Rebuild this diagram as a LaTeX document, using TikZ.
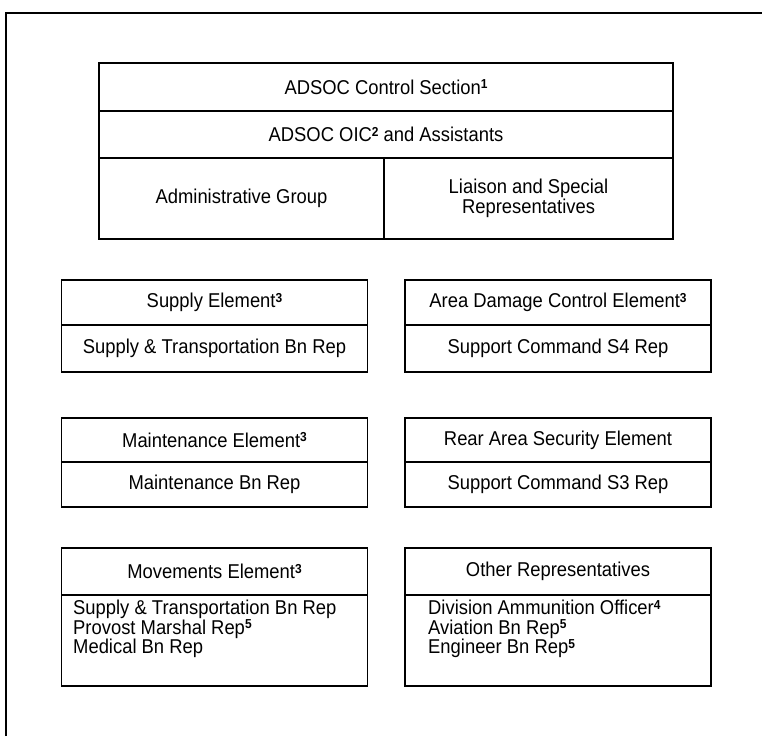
\documentclass[tikz,border=0pt]{standalone}
\usepackage{fontspec}
\setmainfont{Liberation Sans}[FakeStretch=0.92]
\newcommand{\supnum}[1]{\raisebox{0.28em}{\fontsize{13}{13}\selectfont\bfseries #1}}
\newcommand{\tightlines}{\lineskiplimit=-20pt\relax}

\begin{document}
\begin{tikzpicture}[x=1pt,y=-1pt,
	cell/.style={draw,line width=1.7pt,inner sep=0pt,align=center,font=\fontsize{20}{20}\selectfont},
	wide/.style={cell,minimum width=574pt},
	half/.style={cell,minimum width=306pt},
	list/.style={inner sep=0pt,anchor=north west,align=left,font=\fontsize{20}{19.5}\selectfont\tightlines}]
	\useasboundingbox (0,0) rectangle (762,736);
	\draw[line width=2pt] (6,736)--(6,13)--(762,13);
	\node[wide,minimum height=48pt] (ctl) at (386,87){ADSOC Control Section\supnum{1}};
	\node[wide,minimum height=47pt] (oic) at (386,134.5){ADSOC OIC\supnum{2} and Assistants};
	\node[cell,minimum width=285pt,minimum height=81pt] (adm) at (241.5,198.5){Administrative Group};
	\node[cell,minimum width=289pt,minimum height=81pt] (lia) at (528.5,198.5){Liaison and Special\\Representatives};
	\node[half,minimum height=45pt] (sup) at (214.5,302.5){Supply Element\supnum{3}};
	\node[half,minimum height=47pt] (suprep) at (214.5,348.5){Supply \& Transportation Bn Rep};
	\node[half,minimum height=45pt] (adc) at (558,302.5){Area Damage Control Element\supnum{3}};
	\node[half,minimum height=47pt] (adcrep) at (558,348.5){Support Command S4 Rep};
	\node[half,minimum height=44pt] (mnt) at (214.5,440){Maintenance Element\supnum{3}};
	\node[half,minimum height=45pt] (mntrep) at (214.5,484.5){Maintenance Bn Rep};
	\node[half,minimum height=44pt] (ras) at (558,440){Rear Area Security Element};
	\node[half,minimum height=45pt] (rasrep) at (558,484.5){Support Command S3 Rep};
	\node[half,minimum height=47pt] (mov) at (214.5,571.5){Movements Element\supnum{3}};
	\node[half,minimum height=91pt] (movrep) at (214.5,640.5){};
	\node[half,minimum height=47pt] (oth) at (558,571.5){Other Representatives};
	\node[half,minimum height=91pt] (othrep) at (558,640.5){};
	\node[list] (movlist) at (73,600){Supply \& Transportation Bn Rep\\Provost Marshal Rep\supnum{5}\\Medical Bn Rep};
	\node[list] (othlist) at (428,600){Division Ammunition Officer\supnum{4}\\Aviation Bn Rep\supnum{5}\\Engineer Bn Rep\supnum{5}};
\end{tikzpicture}
\end{document}
